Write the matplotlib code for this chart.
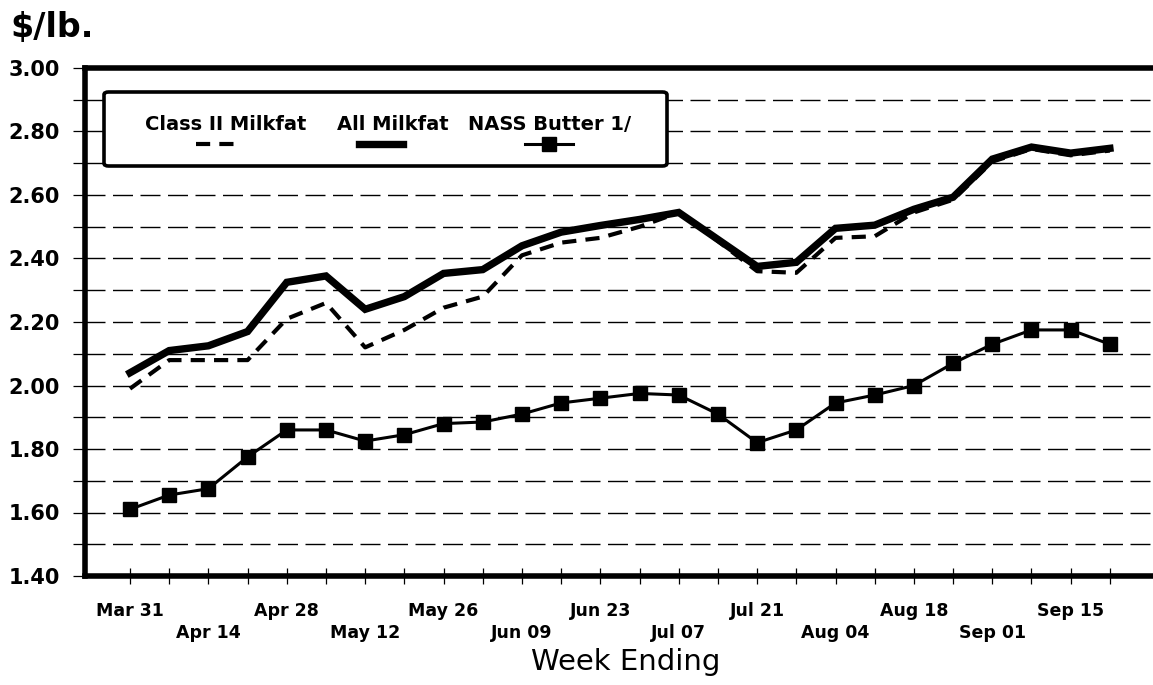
import matplotlib.pyplot as plt
from matplotlib.lines import Line2D
from matplotlib.patches import FancyBboxPatch
from matplotlib.ticker import MultipleLocator

weeks = ["Mar 31", "Apr 07", "Apr 14", "Apr 21", "Apr 28", "May 05", "May 12",
         "May 19", "May 26", "Jun 02", "Jun 09", "Jun 16", "Jun 23", "Jun 30",
         "Jul 07", "Jul 14", "Jul 21", "Jul 28", "Aug 04", "Aug 11", "Aug 18",
         "Aug 25", "Sep 01", "Sep 08", "Sep 15", "Sep 22"]

class2_milkfat = [1.99, 2.08, 2.08, 2.08, 2.21, 2.26, 2.12, 2.175, 2.245, 2.28,
                  2.41, 2.45, 2.465, 2.50, 2.545, 2.455, 2.36, 2.355, 2.465, 2.47,
                  2.545, 2.585, 2.705, 2.745, 2.725, 2.74]
all_milkfat = [2.04, 2.11, 2.125, 2.17, 2.325, 2.345, 2.24, 2.28, 2.353, 2.365,
               2.44, 2.483, 2.504, 2.523, 2.545, 2.46, 2.375, 2.388, 2.495, 2.505,
               2.555, 2.593, 2.713, 2.751, 2.732, 2.747]
nass_butter = [1.61, 1.655, 1.675, 1.775, 1.86, 1.86, 1.825, 1.845, 1.88, 1.885,
               1.91, 1.945, 1.96, 1.975, 1.97, 1.91, 1.82, 1.86, 1.945, 1.97,
               2.00, 2.07, 2.13, 2.175, 2.175, 2.13]

W, H = 1153, 685
x = list(range(len(weeks)))

fig = plt.figure(figsize=(W / 100, H / 100), dpi=100)
ax = fig.add_axes([85 / W, 1 - 576 / H, 1 - 85 / W, (576 - 68) / H])

class_dash = (3.4, 2.2)
ax.plot(x, class2_milkfat, color='k', linewidth=3, linestyle=(0, class_dash), zorder=3)
ax.plot(x, all_milkfat, color='k', linewidth=5.3, solid_joinstyle='miter', zorder=4)
ax.plot(x, nass_butter, color='k', linewidth=2.2, marker='s', markersize=10, zorder=5)

ax.set_xlim(-1.148, 26.1)
ax.set_ylim(1.40, 3.00)

# y axis
ax.yaxis.set_major_locator(MultipleLocator(0.2))
ax.yaxis.set_minor_locator(MultipleLocator(0.1))
ax.yaxis.set_major_formatter(lambda v, pos: f"{v:.2f}")
ax.tick_params(axis='y', which='both', direction='out', length=8.3, width=0.9, pad=10)
ax.tick_params(axis='y', which='major', labelsize=15)
for lab in ax.get_yticklabels():
    lab.set_fontweight('bold')

ax.grid(axis='y', which='both', color='k', linewidth=1.0, linestyle=(0, (14.4, 5.4)))
ax.set_axisbelow(True)

# x axis: label every other week, alternating rows
ax.set_xticks(x)
xlabels = []
for i, w in enumerate(weeks):
    if i % 2 == 1:
        xlabels.append("")
    elif (i // 2) % 2 == 0:
        xlabels.append(w)
    else:
        xlabels.append("\n" + w)
ax.set_xticklabels(xlabels, fontsize=12.5, fontweight='bold', linespacing=1.3)
ax.tick_params(axis='x', direction='inout', length=11, width=0.9, pad=13)

for side in ['left', 'top', 'bottom']:
    ax.spines[side].set_linewidth(4)
ax.spines['right'].set_visible(False)

fig.text(10 / W, 1 - 28 / H, "$/lb.", fontsize=24, fontweight='bold', ha='left', va='center')
fig.text(626 / W, 1 - 662 / H, "Week Ending", fontsize=21, ha='center', va='center')

# legend box drawn by hand (text above line samples)
box = FancyBboxPatch((104 / W, 1 - 166 / H), 563 / W, 74 / H,
                     boxstyle="round,pad=0,rounding_size=0.004",
                     transform=fig.transFigure, facecolor='white', edgecolor='k',
                     linewidth=2.6, zorder=6)
fig.add_artist(box)

ty = 1 - 125 / H
sy = 1 - 144 / H
fig.text(226 / W, ty, "Class II Milkfat", fontsize=14, fontweight='bold', ha='center', va='center', zorder=7)
fig.text(393 / W, ty, "All Milkfat", fontsize=14, fontweight='bold', ha='center', va='center', zorder=7)
fig.text(550 / W, ty, "NASS Butter 1/", fontsize=14, fontweight='bold', ha='center', va='center', zorder=7)

fig.add_artist(Line2D([196 / W, 234 / W], [sy, sy], transform=fig.transFigure, color='k',
                      linewidth=3, linestyle=(0, class_dash), zorder=7))
fig.add_artist(Line2D([359 / W, 403 / W], [sy, sy], transform=fig.transFigure, color='k',
                      linewidth=5.3, zorder=7))
fig.add_artist(Line2D([525 / W, 573 / W], [sy, sy], transform=fig.transFigure, color='k',
                      linewidth=2.2, zorder=7))
fig.add_artist(Line2D([549 / W], [sy], transform=fig.transFigure, color='k',
                      marker='s', markersize=10, zorder=7))

fig.savefig("out.png", dpi=100)
